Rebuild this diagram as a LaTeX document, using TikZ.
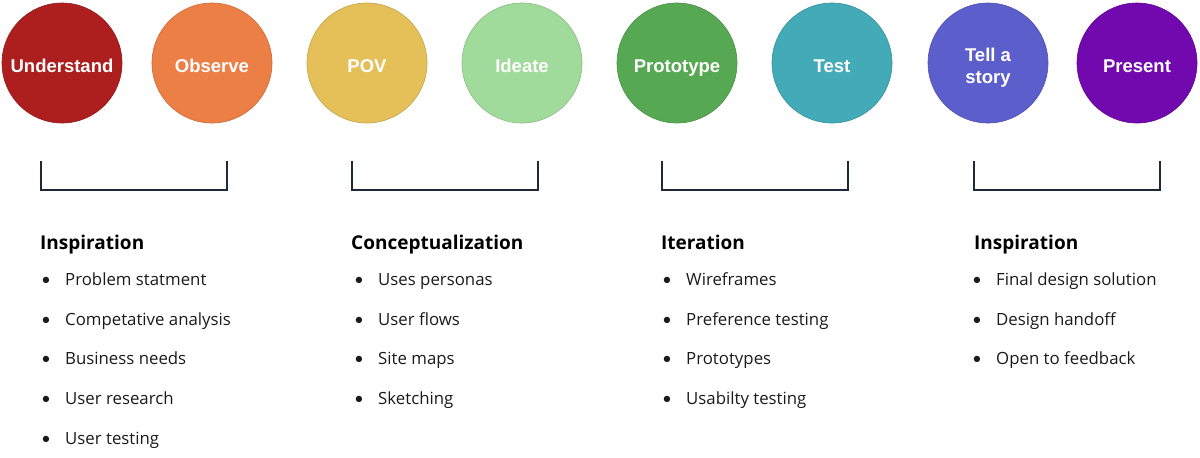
\documentclass[tikz,border=0pt]{standalone}
\usepackage{fontspec}
\setmainfont{Open Sans}
\newfontfamily\circfont{Liberation Sans}
\newfontfamily\dotfont{Lato}
\definecolor{cUnderstand}{HTML}{AD1F1F}
\definecolor{cObserve}{HTML}{EB7F45}
\definecolor{cPOV}{HTML}{E5BF58}
\definecolor{cIdeate}{HTML}{A1DB9B}
\definecolor{cPrototype}{HTML}{57A852}
\definecolor{cTest}{HTML}{43AAB7}
\definecolor{cStory}{HTML}{5C5FCB}
\definecolor{cPresent}{HTML}{7109AE}
\definecolor{ink}{HTML}{1E2A38}
\definecolor{bodytext}{HTML}{1A1A1A}
\begin{document}
\begin{tikzpicture}[x=1pt,y=-1pt,
  stage/.style={circle, minimum size=120pt, inner sep=0pt, fill=#1, draw=#1!85!black, line width=0.6pt},
  stagetext/.style={anchor=base, inner sep=0pt, text=white, font=\circfont\fontsize{18.5}{22}\selectfont\bfseries},
  bracket/.style={draw=ink, line width=1.8pt},
  heading/.style={anchor=base west, inner sep=0pt, text=black, font=\fontsize{19}{22}\selectfont\bfseries},
  item/.style={anchor=base west, inner sep=0pt, text=bodytext, font=\fontsize{16.8}{20}\selectfont},
  dot/.style={anchor=base west, inner sep=0pt, text=bodytext, font=\dotfont\fontsize{17}{20}\selectfont}]
\useasboundingbox (0,0) rectangle (1200,458);

% phase circles
\node[stage=cUnderstand] (understand) at (62,63) {};
\node[stage=cObserve]    (observe)    at (212,63) {};
\node[stage=cPOV]        (pov)        at (367,63) {};
\node[stage=cIdeate]     (ideate)     at (522,63) {};
\node[stage=cPrototype]  (prototype)  at (677,63) {};
\node[stage=cTest]       (test)       at (832,63) {};
\node[stage=cStory]      (story)      at (988,63) {};
\node[stage=cPresent]    (present)    at (1137,63) {};

% circle captions, set on a common baseline
\node[stagetext] (lunderstand) at (62,72) {Understand};
\node[stagetext] (lobserve)    at (212,72) {Observe};
\node[stagetext] (lpov)        at (367,72) {POV};
\node[stagetext] (lideate)     at (522,72) {Ideate};
\node[stagetext] (lprototype)  at (677,72) {Prototype};
\node[stagetext] (ltest)       at (832,72) {Test};
\node[stagetext] (lstoryA)     at (988,61) {Tell a};
\node[stagetext] (lstoryB)     at (988,83) {story};
\node[stagetext] (lpresent)    at (1137,72) {Present};

% brackets grouping the phases
\foreach \xa/\xb in {41/227, 352/538, 662/848, 974/1160}{
  \draw[bracket] (\xa,161) -- (\xa,190) -- (\xb,190) -- (\xb,161);
}

% bullet item: name, x, baseline, text
\newcommand{\bulletitem}[4]{%
  \node[dot] (d#1) at (#2,#3) {\textbullet};
  \node[item] (t#1) at ({#2+24},#3) {#4};
}

\node[heading] (h1) at (40,249) {Inspiration};
\bulletitem{11}{41}{285}{Problem statment}
\bulletitem{12}{41}{325}{Competative analysis}
\bulletitem{13}{41}{364}{Business needs}
\bulletitem{14}{41}{404}{User research}
\bulletitem{15}{41}{444}{User testing}

\node[heading] (h2) at (351,249) {Conceptualization};
\bulletitem{21}{354}{285}{Uses personas}
\bulletitem{22}{354}{325}{User flows}
\bulletitem{23}{354}{364}{Site maps}
\bulletitem{24}{354}{404}{Sketching}

\node[heading] (h3) at (661,249) {Iteration};
\bulletitem{31}{662}{285}{Wireframes}
\bulletitem{32}{662}{325}{Preference testing}
\bulletitem{33}{662}{364}{Prototypes}
\bulletitem{34}{662}{404}{Usabilty testing}

\node[heading] (h4) at (974,249) {Inspiration};
\bulletitem{41}{972}{285}{Final design solution}
\bulletitem{42}{972}{325}{Design handoff}
\bulletitem{43}{972}{364}{Open to feedback}
\end{tikzpicture}
\end{document}
